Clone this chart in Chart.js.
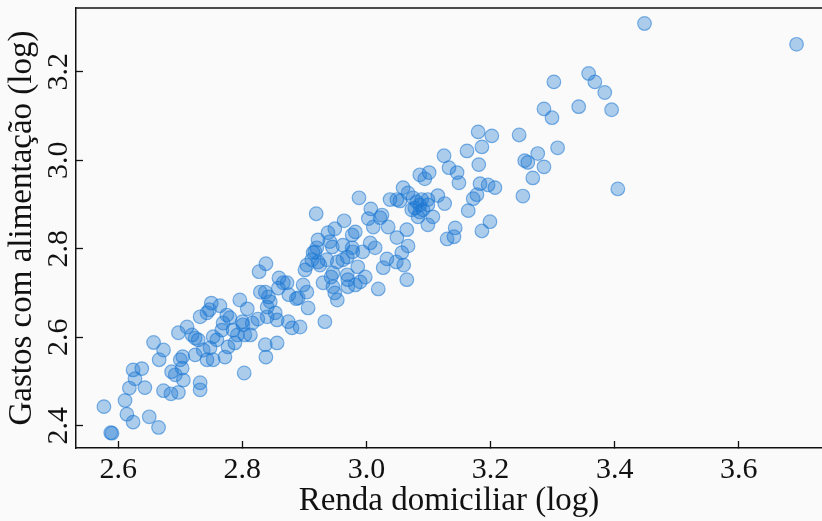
<!DOCTYPE html>
<html lang="pt">
<head>
    <meta charset="UTF-8">
    <title>Gastos com alimentação</title>
    <script src="https://cdn.jsdelivr.net/npm/chart.js"></script>
    <style>
        body { margin: 0; background: #fafafa; }
        #wrap { width: 822px; height: 521px; }
    </style>
</head>
<body>
    <div id="wrap"><canvas id="chart"></canvas></div>

    <script>
        // renda domiciliar (log) e gastos com alimentação (log)
        const rendaLog = [
            2.577, 2.588, 2.590, 2.611, 2.614, 2.624, 2.618, 2.627, 2.624, 2.638, 2.643, 2.650, 2.665, 2.657,
            2.673, 2.666, 2.673, 2.685, 2.697, 2.686, 2.692, 2.700, 2.704, 2.703, 2.705, 2.697, 2.711,
            2.838, 2.827, 2.859, 2.866, 2.872, 2.858, 2.829, 2.837, 2.842, 2.845, 2.840, 2.875, 2.796, 2.750,
            2.764, 2.747, 2.732, 2.743, 2.775, 2.780, 2.808, 2.800, 2.801, 2.816, 2.825, 2.840, 2.853, 2.856,
            2.874, 2.769, 2.767, 2.785, 2.792, 2.804, 2.813, 2.753, 2.759, 2.719, 2.724, 2.729, 2.737, 2.748,
            2.724, 2.743, 2.753, 2.772, 2.777, 2.788, 2.837, 2.856, 2.838, 2.803, 2.732, 2.732,
            2.988, 2.919, 3.007, 2.964, 3.003, 3.011, 2.949, 2.938, 2.982, 2.977, 2.922, 2.941, 2.945, 2.920,
            2.917, 2.914, 2.962, 2.977, 2.978, 2.994, 3.006, 3.014, 2.969, 2.962, 2.953, 2.936, 2.922, 2.912,
            2.904, 2.901, 2.925, 2.986, 2.946, 2.969, 2.970, 2.998, 2.990, 2.982, 2.970, 2.930, 2.946, 2.949,
            2.953, 3.019, 2.898, 2.904, 2.890, 2.906, 2.933, 2.880, 2.893, 2.887, 3.027, 2.943,
            3.125, 3.133, 3.146, 3.149, 3.086, 3.101, 3.094, 3.059, 3.067, 3.038, 3.049, 3.054, 3.075, 3.081,
            3.086, 3.089, 3.099, 3.099, 3.078, 3.115, 3.126, 3.073, 3.091, 3.086, 3.083, 3.107, 3.099, 3.025,
            3.022, 3.035, 3.065, 3.049, 3.143, 3.141, 3.130, 3.067, 3.057, 3.033, 3.048, 3.060, 3.065,
            3.302, 3.286, 3.299, 3.308, 3.180, 3.202, 3.246, 3.186, 3.162, 3.181, 3.276, 3.255, 3.260, 3.286,
            3.268, 3.252, 3.183, 3.196, 3.207, 3.178, 3.172, 3.164, 3.199, 3.186,
            3.448, 3.693, 3.358, 3.368, 3.384, 3.342, 3.395, 3.405
        ];
        const gastosLog = [
            2.443, 2.384, 2.383, 2.457, 2.426, 2.408, 2.485, 2.506, 2.526, 2.529, 2.486, 2.420, 2.396, 2.588,
            2.571, 2.549, 2.479, 2.472, 2.475, 2.522, 2.515, 2.549, 2.556, 2.530, 2.503, 2.610, 2.623,
            2.766, 2.748, 2.734, 2.723, 2.723, 2.711, 2.702, 2.702, 2.691, 2.680, 2.668, 2.696, 2.684, 2.677,
            2.671, 2.662, 2.646, 2.655, 2.650, 2.644, 2.664, 2.635, 2.628, 2.632, 2.641, 2.646, 2.655, 2.639,
            2.635, 2.632, 2.616, 2.616, 2.605, 2.605, 2.605, 2.601, 2.594, 2.605, 2.598, 2.594, 2.571, 2.576,
            2.560, 2.549, 2.549, 2.555, 2.578, 2.587, 2.583, 2.587, 2.555, 2.519, 2.497, 2.481,
            2.915, 2.879, 2.890, 2.863, 2.868, 2.849, 2.845, 2.836, 2.838, 2.831, 2.820, 2.816, 2.804, 2.802,
            2.793, 2.791, 2.808, 2.802, 2.793, 2.793, 2.813, 2.802, 2.781, 2.775, 2.770, 2.775, 2.770, 2.775,
            2.763, 2.752, 2.763, 2.759, 2.745, 2.741, 2.730, 2.736, 2.725, 2.718, 2.714, 2.723, 2.714, 2.700,
            2.684, 2.709, 2.718, 2.702, 2.689, 2.666, 2.635, 2.621, 2.623, 2.687, 2.757, 2.736,
            3.010, 2.983, 2.972, 2.949, 2.967, 2.972, 2.958, 2.938, 2.926, 2.911, 2.911, 2.908, 2.915, 2.906,
            2.899, 2.911, 2.911, 2.899, 2.892, 2.920, 2.902, 2.888, 2.888, 2.883, 2.872, 2.872, 2.854, 2.876,
            2.870, 2.849, 2.843, 2.825, 2.847, 2.827, 2.822, 2.806, 2.791, 2.777, 2.770, 2.763, 2.730,
            3.177, 3.116, 3.096, 3.028, 3.064, 3.055, 3.057, 3.030, 3.021, 2.990, 3.015, 2.999, 2.995, 2.985,
            2.960, 2.919, 2.947, 2.944, 2.938, 2.922, 2.913, 2.886, 2.861, 2.840,
            3.309, 3.262, 3.196, 3.177, 3.153, 3.121, 3.114, 2.935
        ];
        const xTicks = [2.6, 2.8, 3.0, 3.2, 3.4, 3.6];
        const yTicks = [2.4, 2.6, 2.8, 3.0, 3.2];

        const serif = "'Liberation Serif', 'DejaVu Serif', serif";
        const ink = '#111';

        // linha superior da moldura
        const topFrame = {
            id: 'topFrame',
            afterDraw(chart) {
                const { ctx, chartArea } = chart;
                ctx.save();
                ctx.strokeStyle = ink;
                ctx.lineWidth = 1.3;
                ctx.beginPath();
                ctx.moveTo(chartArea.left, chartArea.top);
                ctx.lineTo(chartArea.right, chartArea.top);
                ctx.stroke();
                ctx.restore();
            }
        };

        const pontos = rendaLog.map((x, i) => ({ x: x, y: gastosLog[i] }));

        new Chart(document.getElementById('chart'), {
            type: 'scatter',
            data: {
                datasets: [{
                    data: pontos,
                    backgroundColor: 'rgba(25, 118, 210, 0.35)',
                    borderColor: 'rgba(25, 118, 210, 0.55)',
                    borderWidth: 1.2,
                    pointRadius: 6.8,
                    pointHoverRadius: 6.8
                }]
            },
            options: {
                responsive: true,
                maintainAspectRatio: false,
                animation: false,
                events: [],
                layout: { autoPadding: false, padding: { top: 8, right: 0, bottom: 0, left: 0 } },
                plugins: {
                    legend: { display: false },
                    tooltip: { enabled: false }
                },
                scales: {
                    x: {
                        type: 'linear',
                        position: 'bottom',
                        min: 2.532,
                        max: 3.734,
                        afterFit: s => { s.height = 73; s.paddingLeft = 0; s.paddingRight = 0; },
                        afterBuildTicks: s => { s.ticks = xTicks.map(v => ({ value: v })); },
                        ticks: {
                            callback: v => v.toFixed(1),
                            font: { family: serif, size: 30 },
                            color: ink,
                            padding: 11,
                            maxRotation: 0,
                            autoSkip: false
                        },
                        // marcas para dentro
                        grid: { drawOnChartArea: false, tickLength: -7, tickWidth: 1.3, color: ink },
                        border: { color: ink, width: 1.5 },
                        title: {
                            display: true,
                            text: 'Renda domiciliar (log)',
                            font: { family: serif, size: 33 },
                            color: ink,
                            padding: { top: 0, bottom: 0 }
                        }
                    },
                    y: {
                        type: 'linear',
                        min: 2.3495,
                        max: 3.344,
                        afterFit: s => { s.width = 76; s.paddingTop = 0; s.paddingBottom = 0; },
                        afterBuildTicks: s => { s.ticks = yTicks.map(v => ({ value: v })); },
                        ticks: {
                            callback: v => v.toFixed(1),
                            font: { family: serif, size: 30 },
                            color: ink,
                            minRotation: 90,
                            maxRotation: 90,
                            crossAlign: 'center',
                            padding: 5.5,
                            autoSkip: false
                        },
                        grid: { drawOnChartArea: false, tickLength: -7, tickWidth: 1.3, color: ink },
                        border: { color: ink, width: 1.5 },
                        title: {
                            display: true,
                            text: 'Gastos com alimentação (log)',
                            font: { family: serif, size: 33 },
                            color: ink,
                            padding: { top: 3, bottom: 0 }
                        }
                    }
                }
            },
            plugins: [topFrame]
        });
    </script>
</body>
</html>
